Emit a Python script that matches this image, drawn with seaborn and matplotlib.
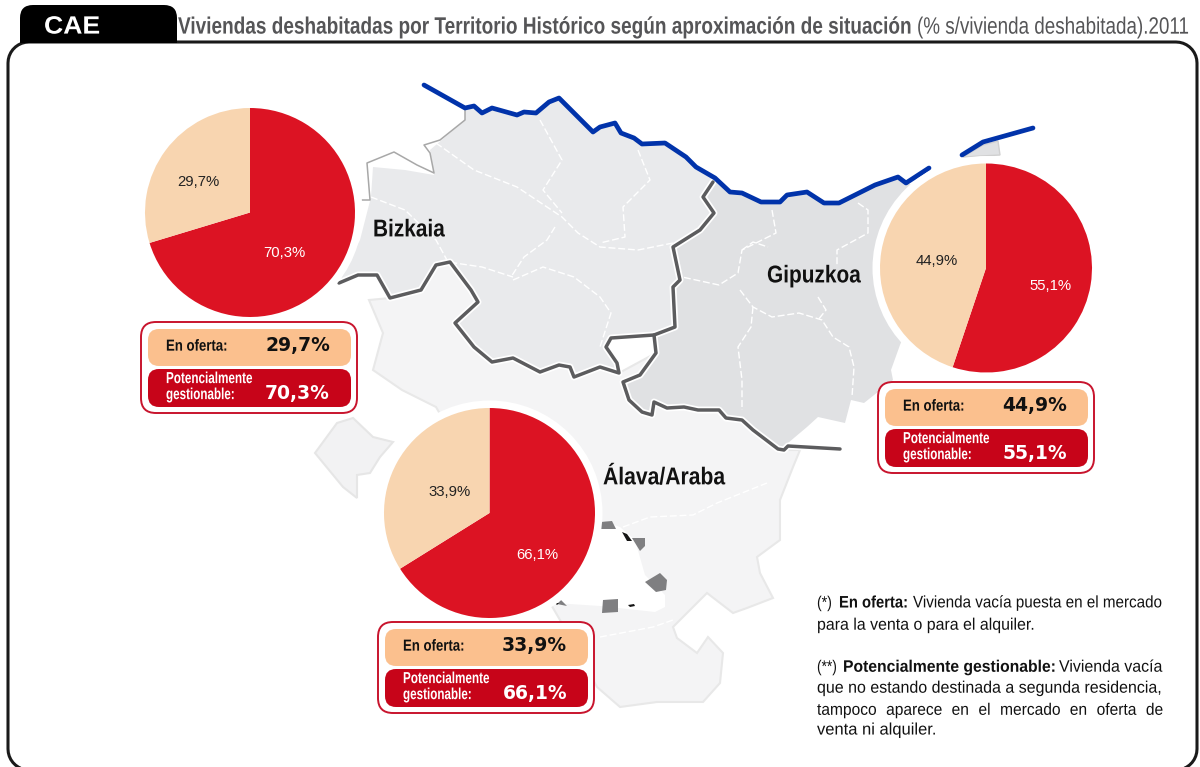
import math
import matplotlib
matplotlib.use("Agg")
import matplotlib.pyplot as plt
import seaborn as sns
from matplotlib.patches import FancyBboxPatch, Polygon, Ellipse
from matplotlib.patheffects import AbstractPathEffect
from matplotlib.transforms import Affine2D

# Valores (% s/vivienda deshabitada)
territorios = ["Bizkaia", "Gipuzkoa", "Álava/Araba"]
en_oferta = [29.7, 44.9, 33.9]
gestionable = [70.3, 55.1, 66.1]

# Mapa de fondo, en pixeles de la imagen
costa = [(424, 85), (465, 108), (474, 106), (482, 113), (492, 108), (517, 115), (524, 112), (536, 113),
         (549, 102), (559, 98), (574, 113), (593, 132), (600, 127), (615, 123), (621, 133), (634, 138),
         (642, 144), (665, 143), (686, 157), (696, 167), (715, 178), (730, 192), (742, 193), (761, 202),
         (780, 202), (787, 195), (807, 192), (824, 203), (839, 203), (875, 185), (898, 177), (906, 183),
         (929, 168), (962, 155), (983, 142), (1033, 128)]
limite_biz = [(713, 182), (703, 197), (714, 213), (700, 230), (673, 247), (680, 280), (673, 287), (675, 327),
              (654, 335), (611, 338), (606, 347), (617, 363), (619, 373), (600, 367), (574, 377), (570, 367),
              (559, 365), (540, 372), (513, 358), (492, 362), (474, 347), (455, 323), (478, 302), (471, 290),
              (450, 262), (436, 265), (421, 290), (390, 298), (377, 275), (358, 275), (339, 283)]
limite_gip = [(654, 335), (656, 353), (640, 375), (623, 382), (629, 400), (642, 412), (652, 415), (654, 402),
              (667, 408), (684, 407), (698, 410), (719, 410), (726, 418), (742, 420), (753, 430), (778, 449),
              (784, 450), (788, 446), (840, 449)]
oeste_biz = [(362, 200), (370, 200), (367, 163), (394, 152), (417, 165), (434, 173), (430, 153), (424, 145),
             (440, 140), (465, 120), (465, 108)]
bizkaia = [(465, 108)] + costa[2:21] + limite_biz + [(345, 270), (360, 240), (371, 197), (373, 167), (405, 170),
                                                    (434, 175), (430, 150), (465, 120)]
gipuzkoa = costa[20:32] + [(960, 200), (900, 345), (891, 370), (893, 380), (864, 403), (851, 400), (845, 423),
                           (818, 417), (807, 427), (788, 443)] + limite_gip[::-1][2:] + limite_biz[:10][::-1]
irun = [(963, 157), (983, 145), (998, 141), (1000, 155)]
araba = [(369, 300), (383, 333), (373, 370), (402, 390), (436, 407), (560, 620), (597, 687), (620, 707), (657, 702),
         (703, 702), (720, 683), (723, 653), (708, 637), (697, 653), (677, 638), (673, 627), (707, 593), (733, 613),
         (747, 608), (773, 598), (760, 573), (757, 557), (780, 540), (780, 500), (793, 467), (800, 450),
         (784, 450)] + limite_gip[1:-2][::-1] + limite_biz[12:-3]
enclave = [(315, 453), (337, 423), (353, 418), (373, 437), (393, 442), (380, 457), (370, 473), (357, 475),
           (357, 498), (343, 487)]
trevino = [(600, 520), (620, 527), (635, 540), (645, 575), (665, 595), (665, 607), (655, 612), (600, 606), (555, 603)]
manchas = [[(600, 522), (612, 521), (616, 529), (601, 529)],
           [(632, 538), (645, 538), (645, 546), (640, 551)],
           [(645, 582), (660, 573), (667, 580), (666, 590), (656, 592)],
           [(603, 600), (618, 599), (618, 612), (602, 613)],
           [(557, 604), (561, 600), (567, 606)]]
manchas_negras = [[(622, 532), (627, 534), (632, 541), (627, 541)],
                  [(628, 605), (634, 604), (635, 606), (630, 607)],
                  [(555, 603), (559, 603), (557, 605)]]
rayas = [[(436, 143), (474, 170), (517, 187), (562, 217), (578, 233), (600, 247), (638, 250), (673, 243)],
         [(540, 120), (562, 160), (543, 190), (562, 213)],
         [(555, 227), (547, 240), (524, 257), (511, 277)],
         [(513, 280), (543, 267), (574, 277), (600, 297), (611, 313), (600, 347)],
         [(371, 197), (405, 210), (436, 240), (448, 262), (482, 267), (513, 277)],
         [(638, 150), (650, 180), (623, 207), (625, 237), (600, 243)],
         [(772, 210), (776, 233), (742, 250), (738, 273), (719, 285), (682, 277)],
         [(742, 250), (753, 242), (768, 247)],
         [(740, 290), (753, 307), (772, 317), (799, 313), (822, 320), (833, 337), (849, 347), (854, 367), (852, 397)],
         [(753, 307), (751, 327), (738, 347), (742, 380), (742, 410)],
         [(858, 203), (868, 210), (868, 233), (837, 250), (837, 267)],
         [(818, 297), (826, 310), (818, 320)],
         [(623, 527), (650, 517), (693, 515), (717, 503), (767, 483)],
         [(600, 637), (653, 627), (673, 620)]]

# cx, cy, rx, ry de cada tarta y etiquetas (oferta, gestionable)
pies = [(250, 212.5, 105, 104.5), (986, 268, 106, 104.5), (489.5, 513, 105.5, 105)]
pct_pos = [((198, 182), (284, 253)), ((937, 261), (1051, 286)), ((450, 492), (537, 555))]
# x, y, ancho del nombre de cada territorio
nombre_pos = [(373, 230, 72), (767, 276, 94), (603, 478, 122)]
caja_pos = [(141, 322), (878, 382), (378, 622)]

sns.set_theme(style="white")
plt.rcParams["font.family"] = ["Liberation Sans", "DejaVu Sans"]

ROJO = "#dc1323"
CREMA = "#f8d5b0"
NARANJA = "#fbc08e"
GRANATE = "#c70419"
GRIS = "#5c5c5e"


class Alto(AbstractPathEffect):
    # estira el texto en vertical, no hay fuente narrow instalada
    def __init__(self, sy, y0):
        super().__init__()
        self.sy = sy
        self.y0 = y0

    def draw_path(self, renderer, gc, tpath, affine, rgbFace=None):
        aff = affine + Affine2D().translate(0, -self.y0).scale(1, self.sy).translate(0, self.y0)
        renderer.draw_path(gc, tpath, aff, rgbFace)


def fmt(v):
    return f"{v:.1f}".replace(".", ",") + "%"


fig = plt.figure(figsize=(12, 7.67), dpi=100)
ax = fig.add_axes([0, 0, 1, 1])
ax.axis("off")
ax.set_xlim(0, 1200)
ax.set_ylim(767, 0)
rend = fig.canvas.get_renderer()


def linea(pts, **kw):
    sns.lineplot(x=[p[0] for p in pts], y=[p[1] for p in pts], sort=False, estimator=None, ax=ax, legend=False, **kw)


def caja(x, y, w, h, r, **kw):
    ax.add_patch(FancyBboxPatch((x + r, y + r), w - 2 * r, h - 2 * r, boxstyle=f"round,pad={r},rounding_size={r}", **kw))


def arco(cx, cy, r, a0):
    return [(cx + r * math.cos(math.radians(a)), cy + r * math.sin(math.radians(a))) for a in range(a0, a0 + 91, 10)]


def ancho(t):
    return t.get_window_extent(rend).width


def ajustado(x, y, txt, w, size, color="#111111", weight="bold"):
    # el texto ocupa w pixeles y conserva la altura de la fuente de tamano size
    t = ax.text(x, y, txt, fontsize=size, weight=weight, color=color, va="center", ha="left", zorder=9)
    nuevo = size * w / ancho(t)
    t.set_fontsize(nuevo)
    t.set_path_effects([Alto(size / nuevo, 767 - y)])


def justificada(x, y, fin, txt, size, alto):
    # reparte las palabras entre x y fin
    ts = [ax.text(x, y, p, fontsize=size, color="#111111", va="center", ha="left", zorder=9) for p in txt.split()]
    hueco = (fin - x - sum(ancho(t) for t in ts)) / (len(ts) - 1)
    for t in ts:
        t.set_x(x)
        t.set_path_effects([Alto(alto / size, 767 - y)])
        x += ancho(t) + hueco


# mapa
ax.add_patch(Polygon(araba, fc="#f4f4f5", ec="#e8e8e8", lw=1.5, zorder=1))
ax.add_patch(Polygon(enclave, fc="#f2f2f3", ec="#e6e6e6", lw=1.5, zorder=1))
ax.add_patch(Polygon(bizkaia, fc="#e9eaec", ec="none", zorder=2))
ax.add_patch(Polygon(gipuzkoa, fc="#e0e1e3", ec="none", zorder=2))
ax.add_patch(Polygon(irun, fc="#e0e1e3", ec="#d0d0d0", lw=1, zorder=2))
ax.add_patch(Polygon(trevino, fc="white", ec="none", zorder=2))
for m in manchas:
    ax.add_patch(Polygon(m, fc="#7f7f81", ec="none", zorder=3))
for m in manchas_negras:
    ax.add_patch(Polygon(m, fc="#151515", ec="none", zorder=3))
for r in rayas:
    linea(r, color="white", lw=1.0, linestyle=(0, (5, 2)), zorder=3)
linea(oeste_biz, color="#a8a8a8", lw=1.1, zorder=3)
for lim in (limite_biz, limite_gip):
    linea(lim, color="white", lw=5, zorder=4)
for lim in (limite_biz, limite_gip):
    linea(lim, color=GRIS, lw=2.5, zorder=5)
linea(costa[:33], color="#0133aa", lw=3.4, zorder=5)
linea(costa[33:], color="#0133aa", lw=3.4, zorder=5)

# tartas con su halo blanco
for (cx, cy, rx, ry), pos, of, ge, nom, npos, cpos in zip(pies, pct_pos, en_oferta, gestionable, territorios, nombre_pos, caja_pos):
    ax.add_patch(Ellipse((cx, cy), 2 * rx + 15, 2 * ry + 15, fc="white", ec="none", zorder=6))
    sub = fig.add_axes([(cx - rx) / 1200, 1 - (cy + ry) / 767, 2 * rx / 1200, 2 * ry / 767], zorder=5)
    wedges, _, auto = sub.pie([ge, of], colors=[ROJO, CREMA], startangle=90, counterclock=False, radius=1,
                              wedgeprops={"linewidth": 0}, autopct=lambda p: fmt(p), textprops={"fontsize": 10.7})
    sub.set_xlim(-1, 1)
    sub.set_ylim(-1, 1)
    sub.set_aspect("auto")
    auto[0].set_position(((pos[1][0] - cx) / rx, (cy - pos[1][1]) / ry))
    auto[0].set_color("white")
    auto[1].set_position(((pos[0][0] - cx) / rx, (cy - pos[0][1]) / ry))
    auto[1].set_color("#222222")

    ajustado(npos[0], npos[1], nom, npos[2], 17.5)

    x0, y0 = cpos
    caja(x0, y0, 216, 91, 15, fc="white", ec="#c8142d", lw=1.4, zorder=7)
    caja(x0 + 7, y0 + 7, 203, 37, 11, fc=NARANJA, ec="none", zorder=8)
    caja(x0 + 7, y0 + 47, 203, 38, 11, fc=GRANATE, ec="none", zorder=8)
    ajustado(x0 + 25, y0 + 25, "En oferta:", 62, 11.5)
    ajustado(x0 + 25, y0 + 57, "Potencialmente", 87, 11.5, color="white")
    ajustado(x0 + 25, y0 + 73, "gestionable:", 69, 11.5, color="white")
    ax.text(x0 + 189, y0 + 23, fmt(of), fontsize=13.5, weight="bold", family="DejaVu Sans", color="#111111",
            ha="right", va="center", zorder=9)
    ax.text(x0 + 189, y0 + 71, fmt(ge), fontsize=13.5, weight="bold", family="DejaVu Sans", color="white",
            ha="right", va="center", zorder=9)

# marco y cabecera
marco = arco(29, 749, 21, 90) + arco(29, 63, 21, 180) + arco(1176, 63, 21, 270) + arco(1176, 749, 21, 0)
linea(marco, color="#1a1a1a", lw=2.2, zorder=6)
caja(20, 5, 157, 38, 13, fc="black", ec="none", zorder=7)
ax.add_patch(Polygon([(20, 25), (177, 25), (177, 43), (20, 43)], fc="black", ec="none", zorder=7))
ajustado(44, 27, "CAE", 56, 18, color="white")
ajustado(178, 28, "Viviendas deshabitadas por Territorio Histórico según aproximación de situación", 735, 17, color="#555557")
ajustado(917, 28, "(% s/vivienda deshabitada).2011", 273, 17, color="#555557", weight="normal")

# notas
ajustado(817, 603, "(*)", 15, 12, weight="normal")
ajustado(839, 603, "En oferta:", 69, 12)
ajustado(913, 603, "Vivienda vacía puesta en el mercado", 250, 12, weight="normal")
ajustado(817, 625, "para la venta o para el alquiler.", 219, 12, weight="normal")
ajustado(817, 667, "(**)", 20, 12, weight="normal")
ajustado(843, 667, "Potencialmente gestionable:", 212, 12)
ajustado(1059, 667, "Vivienda vacía", 104, 12, weight="normal")
ajustado(817, 688, "que no estando destinada a segunda residencia,", 346, 12, weight="normal")
justificada(817, 710, 1163, "tampoco aparece en el mercado en oferta de", 11.2, 12)
ajustado(817, 730, "venta ni alquiler.", 120, 12, weight="normal")

ax.set_xlim(0, 1200)
ax.set_ylim(767, 0)
fig.savefig("out.png", dpi=100)
